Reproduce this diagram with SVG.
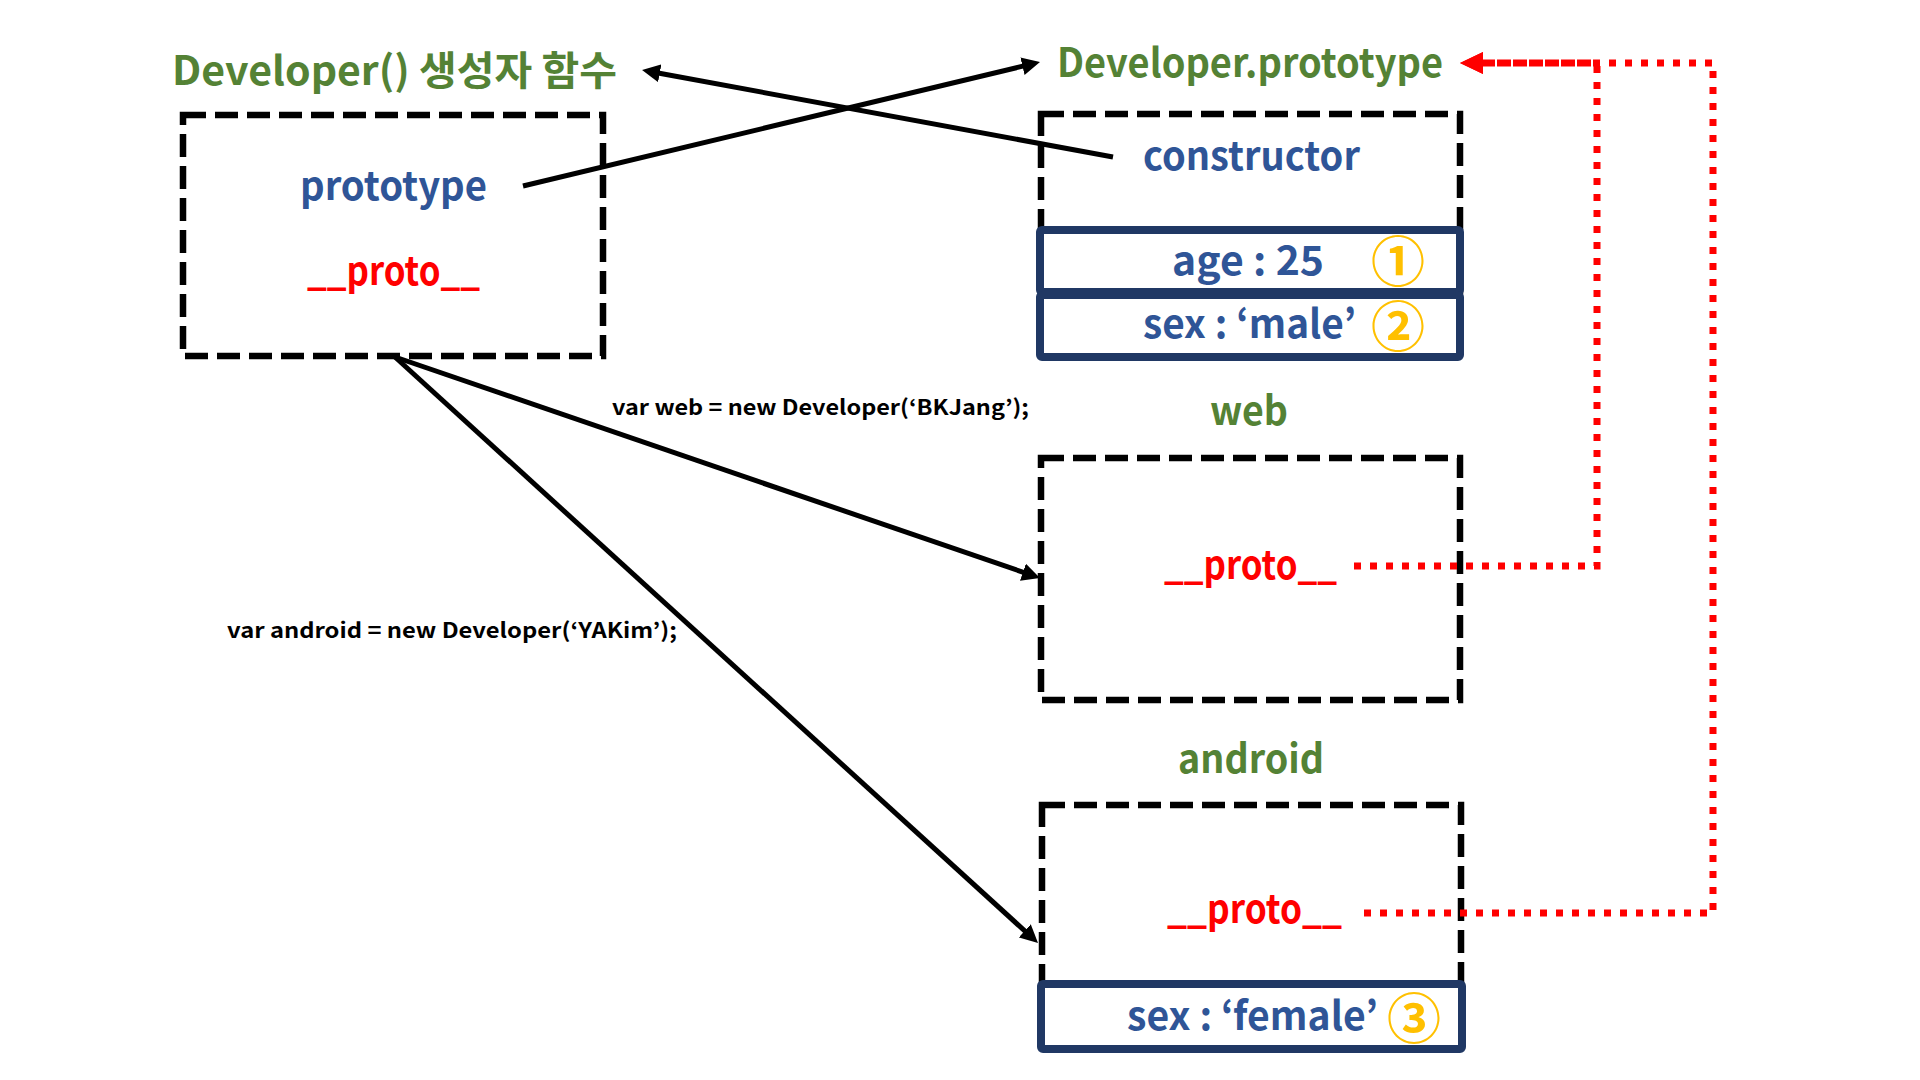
<svg xmlns="http://www.w3.org/2000/svg" width="1920" height="1080" viewBox="0 0 1920 1080">
<style>
text{font-family:"Noto Sans CJK KR","Noto Sans",sans-serif;font-weight:700}
.t{font-size:40px}
.green{fill:#548235}
.blue{fill:#2F5597}
.red{fill:#FF0000}
.code{font-size:21px;fill:#000}
.num{font-size:54px;fill:#FFC000;font-weight:700;text-anchor:middle;dominant-baseline:central}
.dash{fill:none;stroke:#000;stroke-width:6.5;stroke-dasharray:23 9}
.navy{fill:#fff;stroke:#203864;stroke-width:8}
.conn{fill:none;stroke:#000;stroke-width:5;marker-end:url(#ah)}
.dot{fill:none;stroke:#FF0000;stroke-width:7;stroke-dasharray:7 9;marker-end:url(#rh)}
</style>
<defs>
<marker id="ah" markerUnits="userSpaceOnUse" markerWidth="18" markerHeight="18" refX="10" refY="9" orient="auto">
<path d="M0,0 L18,9 L0,18 z" fill="#000"/>
</marker>
<marker id="rh" markerUnits="userSpaceOnUse" markerWidth="23" markerHeight="22" refX="13" refY="11" orient="auto">
<path d="M0,0 L23,11 L0,22 z" fill="#FF0000"/>
</marker>
</defs>
<rect width="1920" height="1080" fill="#fff"/>

<g id="node-developer-fn">
<text class="t green" x="172" y="85" textLength="445" lengthAdjust="spacingAndGlyphs">Developer() 생성자 함수</text>
<rect class="dash" x="183" y="115" width="420" height="241"/>
<text class="t blue" x="300" y="200" textLength="187" lengthAdjust="spacingAndGlyphs">prototype</text>
<text class="t red" x="307" y="285" textLength="173" lengthAdjust="spacingAndGlyphs">__proto__</text>
</g>

<g id="node-developer-prototype">
<text class="t green" x="1057" y="77" textLength="386" lengthAdjust="spacingAndGlyphs">Developer.prototype</text>
<rect class="dash" x="1041" y="114" width="419" height="200"/>
<text class="t blue" x="1143" y="170" textLength="217" lengthAdjust="spacingAndGlyphs">constructor</text>
<rect class="navy" x="1040" y="230" width="420" height="62" rx="2"/>
<rect class="navy" x="1040" y="295" width="420" height="62" rx="2"/>
<text class="t blue" x="1172" y="275" textLength="152" lengthAdjust="spacingAndGlyphs">age : 25</text>
<text class="num" x="1398" y="258">①</text>
<text class="t blue" x="1143" y="338" textLength="213" lengthAdjust="spacingAndGlyphs">sex : ‘male’</text>
<text class="num" x="1398" y="323">②</text>
</g>

<g id="node-web">
<text class="t green" x="1210" y="425" textLength="78" lengthAdjust="spacingAndGlyphs">web</text>
<rect class="dash" x="1041" y="458" width="419" height="242"/>
<text class="t red" x="1164" y="579" textLength="173" lengthAdjust="spacingAndGlyphs">__proto__</text>
</g>

<g id="node-android">
<text class="t green" x="1178" y="773" textLength="146" lengthAdjust="spacingAndGlyphs">android</text>
<rect class="dash" x="1042" y="805" width="419" height="200"/>
<rect class="navy" x="1041" y="984" width="421" height="65" rx="2"/>
<text class="t red" x="1167" y="923" textLength="175" lengthAdjust="spacingAndGlyphs">__proto__</text>
<text class="t blue" x="1127" y="1030" textLength="251" lengthAdjust="spacingAndGlyphs">sex : ‘female’</text>
<text class="num" x="1414" y="1015">③</text>
</g>

<g id="connectors">
<path class="conn" d="M523,186 L1032.2,63.9"/>
<path class="conn" d="M1113,157 L649.9,71.5"/>
<path class="conn" d="M395,357 L1032.4,575.4"/>
<path class="conn" d="M395,357 L1032.1,937.6"/>
<path class="dot" d="M1354,566 H1597 V63 H1470"/>
<path class="dot" d="M1364,913 H1713 V63 H1470"/>
<text class="code" x="612" y="415" textLength="417" lengthAdjust="spacingAndGlyphs">var web = new Developer(‘BKJang’);</text>
<text class="code" x="227" y="638" textLength="450" lengthAdjust="spacingAndGlyphs">var android = new Developer(‘YAKim’);</text>
</g>
</svg>
